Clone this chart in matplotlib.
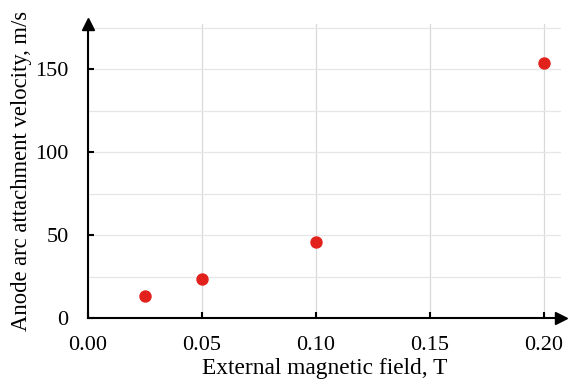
import matplotlib.pyplot as plt
from matplotlib.ticker import MultipleLocator

plt.rcParams['font.family'] = ['Liberation Serif', 'DejaVu Serif']

field = [0.025, 0.05, 0.1, 0.2]
velocity = [13.5, 23.5, 46, 153.5]

fig = plt.figure(figsize=(5.68, 3.89), dpi=100)
ax = fig.add_axes([0.1549, 0.1825, 0.8327, 0.7553])

ax.set_xlim(0, 0.2075)
ax.set_ylim(0, 177)
ax.xaxis.set_major_locator(MultipleLocator(0.05))
ax.yaxis.set_major_locator(MultipleLocator(50))
ax.yaxis.set_minor_locator(MultipleLocator(25))
ax.xaxis.set_major_formatter(lambda v, p: f"{v:.2f}")

ax.grid(True, which='major', axis='x', color='#d9d9d9', lw=0.9)
ax.grid(True, which='both', axis='y', color='#e6e6e6', lw=0.9)
ax.tick_params(which='major', direction='in', length=4.5, width=1.5, labelsize=16)
ax.tick_params(axis='x', pad=13)
ax.tick_params(axis='y', pad=14)
ax.tick_params(which='minor', length=0)
ax.set_axisbelow(True)

for s in ['top', 'right']:
    ax.spines[s].set_visible(False)
for s in ['left', 'bottom']:
    ax.spines[s].set_linewidth(1.5)

# arrow heads on the axes
ax.plot(1, 0, '>k', ms=8, transform=ax.get_yaxis_transform(), clip_on=False)
ax.plot(0, 1, '^k', ms=8, transform=ax.get_xaxis_transform(), clip_on=False)

ax.scatter(field, velocity, s=63, color='#e3211c', zorder=3, clip_on=False)

ax.set_xlabel("External magnetic field, T", fontsize=16.8, labelpad=2)
ax.set_ylabel("Anode arc attachment velocity, m/s", fontsize=16.3, labelpad=2)

fig.savefig("out.png", dpi=100)
